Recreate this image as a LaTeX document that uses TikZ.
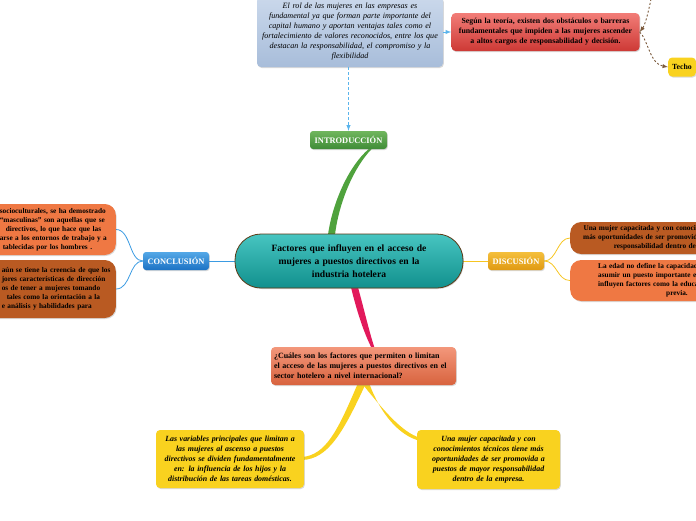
\documentclass[tikz,border=0pt]{standalone}
\usepackage{fontspec}
\setmainfont{Liberation Serif}
\usetikzlibrary{positioning,calc,shadows,backgrounds}

\definecolor{rolA}{HTML}{CAD8EB}
\definecolor{rolB}{HTML}{A8BDDA}
\definecolor{teorA}{HTML}{F27D78}
\definecolor{teorB}{HTML}{CD3935}
\definecolor{introA}{HTML}{70B65D}
\definecolor{introB}{HTML}{3F8C37}
\definecolor{centA}{HTML}{47C5C1}
\definecolor{centB}{HTML}{11908D}
\definecolor{borde}{HTML}{5B3A16}
\definecolor{conclA}{HTML}{54A8E7}
\definecolor{conclB}{HTML}{1C72C4}
\definecolor{discA}{HTML}{F4BF3C}
\definecolor{discB}{HTML}{E09A12}
\definecolor{pregA}{HTML}{F3977B}
\definecolor{pregB}{HTML}{D8633E}
\definecolor{naranja}{HTML}{EF7843}
\definecolor{marron}{HTML}{B95A22}
\definecolor{amar}{HTML}{F9D21F}
\definecolor{amar2}{HTML}{F6C521}
\definecolor{verde}{HTML}{4FA23D}
\definecolor{rosa}{HTML}{E2195B}
\definecolor{azul}{HTML}{3B9BE2}
\definecolor{celeste}{HTML}{5AB4EC}
\definecolor{cafe}{HTML}{7B5A3C}

\begin{document}
\begin{tikzpicture}[x=1pt, y=-1pt,
		sombra/.style={drop shadow={opacity=0.3, shadow xshift=0.8pt, shadow yshift=-1pt}},
		nota/.style={sombra, rounded corners=4pt, align=center, inner sep=3pt, text=black},
		rama/.style={sombra, rounded corners=3pt, minimum height=18pt, inner sep=2pt, text=white, font=\bfseries\fontsize{8.4}{9}\selectfont},
		tema/.style={sombra, rounded corners=26pt, draw=borde, line width=0.8pt, top color=centA, bottom color=centB, minimum width=228pt, minimum height=54pt, text width=200pt, align=center, font=\bfseries\fontsize{9.6}{13}\selectfont},
		lado/.style={sombra, rounded corners=11pt, align=left, font=\bfseries\fontsize{7.3}{9}\selectfont},
		hoja/.style={nota, fill=amar, font=\bfseries\itshape\fontsize{7.9}{10}\selectfont}
	]
	\useasboundingbox (0,0) rectangle (696,520);

	\node[nota, top color=rolA, bottom color=rolB, minimum width=186pt, minimum height=70pt, inner xsep=1pt, text width=184pt, font=\itshape\fontsize{8.1}{10}\selectfont] (rol) at (350,32) {El rol de las mujeres en las empresas es\\fundamental ya que forman parte importante del\\capital humano y aportan ventajas tales como el\\fortalecimiento de valores reconocidos, entre los que\\destacan la responsabilidad, el compromiso y la\\flexibilidad};
	\node[nota, top color=teorA, bottom color=teorB, minimum width=185pt, minimum height=38pt, text width=182pt, font=\bfseries\fontsize{7.8}{10}\selectfont] (teor) at (545.5,32) {Según la teoría, existen dos obstáculos o barreras\\fundamentales que impiden a las mujeres ascender\\a altos cargos de responsabilidad y decisión.};
	\node[nota, fill=amar, anchor=west, minimum height=19pt, inner xsep=4pt, font=\bfseries\fontsize{7.8}{9}\selectfont] (techo) at (668,67) {Techo};

	\node[rama, top color=introA, bottom color=introB, minimum width=77pt] (intro) at (348.5,140) {INTRODUCCIÓN};
	\node[tema] (cent) at (349,261) {Factores que influyen en el acceso de\\mujeres a puestos directivos en la\\industria hotelera};
	\node[rama, top color=conclA, bottom color=conclB, minimum width=66pt] (concl) at (176,261) {CONCLUSIÓN};
	\node[rama, top color=discA, bottom color=discB, minimum width=56pt] (disc) at (516,261) {DISCUSIÓN};

	\node[lado, fill=naranja, anchor=east, text width=156pt, inner xsep=2pt, minimum height=51pt] (soc) at (116,229.5) {\leftskip=42pt \mbox{socioculturales, se ha demostrado}\\\mbox{“masculinas” son aquellas que se}\\\mbox{\hspace*{6pt}directivos, lo que hace que las}\\\mbox{arse a los entornos de trabajo y a}\\\mbox{\hspace*{3pt}tablecidas por los hombres .}\par};
	\node[lado, fill=marron, anchor=east, text width=156pt, inner xsep=2pt, minimum height=58pt] (cre) at (116,289) {\leftskip=44pt \mbox{aún se tiene la creencia de que los}\\\mbox{jores características de dirección}\\\mbox{os de tener a mujeres tomando}\\\mbox{\hspace*{5pt}tales como la orientación a la}\\\mbox{e análisis y habilidades para}\par};
	\node[lado, fill=marron, anchor=west, text width=196pt, inner xsep=6pt, minimum height=32pt, align=center] (capa) at (570,238) {Una mujer capacitada y con conocimientos técnicos tiene\\más oportunidades de ser promovida a puestos de mayor\\responsabilidad dentro de la empresa.};
	\node[lado, fill=naranja, anchor=west, text width=196pt, inner xsep=6pt, minimum height=41pt] (edad) at (570,280.5) {\leftskip=22pt La edad no define la capacidad d\\asumir un puesto importante en\\influyen factores como la educa\\\hspace*{68pt}previa.\par};

	\node[nota, top color=pregA, bottom color=pregB, minimum width=183pt, minimum height=38pt, text width=179pt, align=left, font=\bfseries\fontsize{8}{10}\selectfont] (preg) at (363.5,366) {¿Cuáles son los factores que permiten o limitan\\el acceso de las mujeres a puestos directivos en el\\sector hotelero a nivel internacional?};
	\node[hoja, minimum width=146pt, minimum height=58pt, text width=142pt] (vari) at (230,459) {Las variables principales que limitan a\\las mujeres al ascenso a puestos\\directivos se dividen fundamentalmente\\en: la influencia de los hijos y la\\distribución de las tareas domésticas.};
	\node[hoja, minimum width=141pt, minimum height=59pt, text width=137pt] (mujer) at (488.5,459.5) {Una mujer capacitada y con\\conocimientos técnicos tiene más\\oportunidades de ser promovida a\\puestos de mayor responsabilidad\\dentro de la empresa.};

	\begin{scope}[on background layer]
		\fill[verde] ($(cent.north)+(-21,1)$) .. controls (333,200) and (350,165) .. ($(intro.south)+(20,0)$) -- ($(intro.south)+(23,0)$) .. controls (354,167) and (339,202) .. ($(cent.north)+(-14,1)$) -- cycle;
		\fill[rosa] ($(cent.south)+(2,-1)$) .. controls (357,312) and (364,333) .. ($(preg.north)+(8,1)$) -- ($(preg.north)+(11,1)$) .. controls (369,331) and (364,309) .. ($(cent.south)+(9,-1)$) -- cycle;
		\fill[amar] ($(preg.south)+(-6,-1)$) .. controls (338,430) and (326,455) .. ($(vari.east)+(-2,-2)$) -- ($(vari.east)+(-2,1)$) .. controls (328,459) and (343,433) .. ($(preg.south)+(2,-1)$) -- cycle;
		\fill[amar] ($(preg.south)+(-1,-1)$) .. controls (385,412) and (402,432) .. ($(mujer.north west)+(3,8)$) -- ($(mujer.north west)+(3,11)$) .. controls (400,436) and (381,415) .. ($(preg.south)+(6,-1)$) -- cycle;
		\draw[azul, line width=1pt] (cent.west) -- (concl.east);
		\draw[azul, line width=0.8pt] (concl.west) .. controls (129,261) and (131,229.5) .. (soc.east);
		\draw[azul, line width=0.8pt] (concl.west) .. controls (129,261) and (131,289) .. (cre.east);
		\draw[amar2, line width=1pt] (cent.east) -- (disc.west);
		\draw[amar2, line width=0.8pt] (disc.east) .. controls (557,261) and (557,238) .. (capa.west);
		\draw[amar2, line width=0.8pt] (disc.east) .. controls (557,261) and (557,280.5) .. (edad.west);
	\end{scope}

	\coordinate (arriba) at (651,-1);
	\draw[celeste, line width=1pt, dash pattern=on 3pt off 2pt, ->, >=latex] (intro.north |- rol.south) -- (intro.north);
	\draw[celeste, line width=1pt, dash pattern=on 3pt off 2pt, ->, >=latex] (rol.east) -- (teor.west);
	\draw[cafe, line width=0.9pt, dash pattern=on 2pt off 2pt, ->, >=latex] (arriba) .. controls (648,14) and (645,25) .. (teor.east);
	\draw[cafe, line width=0.9pt, dash pattern=on 2pt off 2pt, ->, >=latex] (teor.east) .. controls (648,40) and (650,64) .. (techo.west);
\end{tikzpicture}
\end{document}
